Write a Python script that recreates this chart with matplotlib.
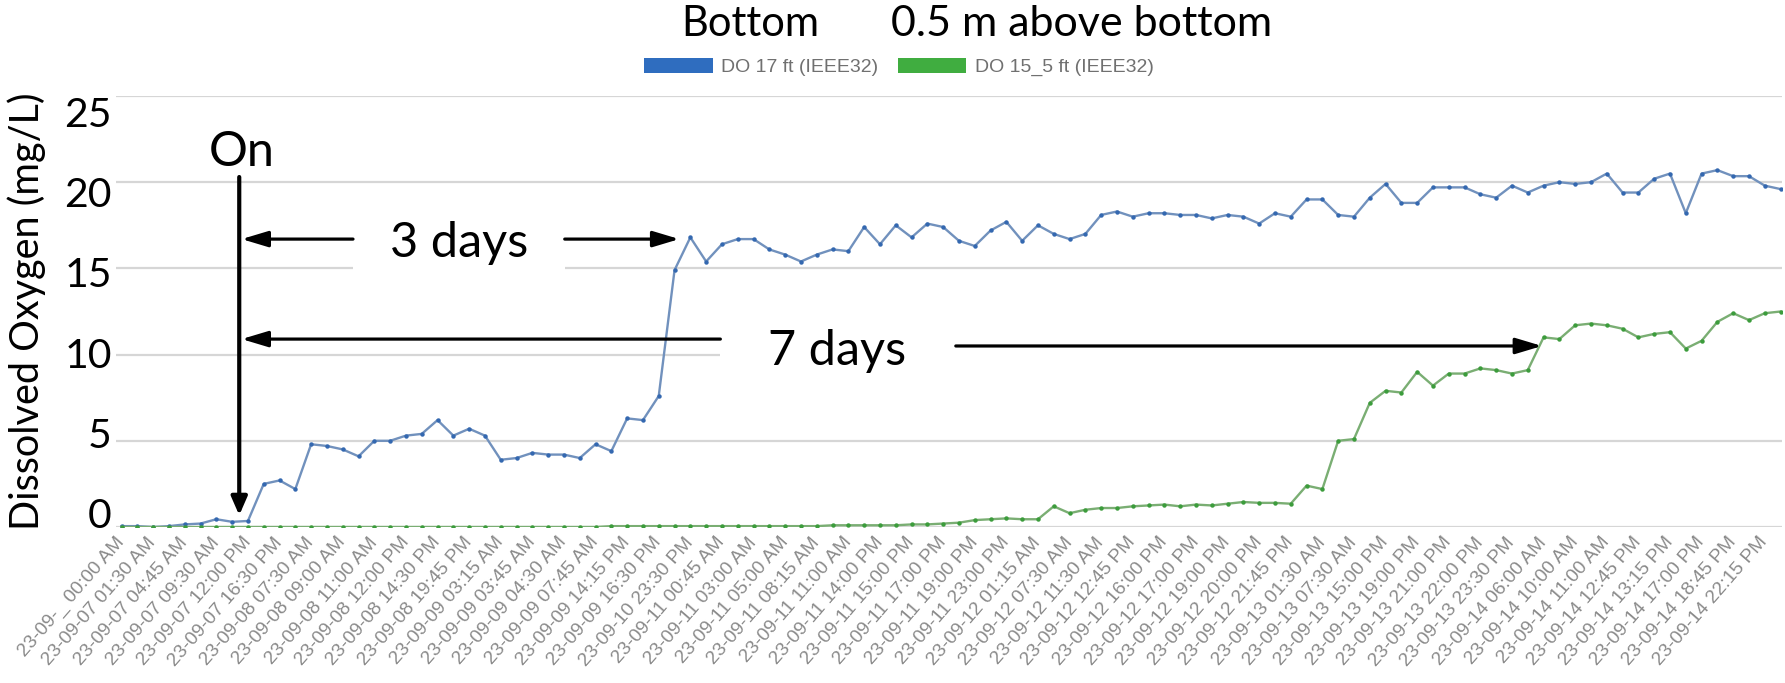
import matplotlib
matplotlib.use("Agg")
import matplotlib.pyplot as plt
from matplotlib.patches import Patch, Rectangle
from matplotlib.transforms import ScaledTranslation
import numpy as np

# ---------------- data ----------------
tick_labels = [
    "23-09-_ 00:00 AM", "23-09-07 01:30 AM", "23-09-07 04:45 AM", "23-09-07 09:30 AM",
    "23-09-07 12:00 PM", "23-09-07 16:30 PM", "23-09-08 07:30 AM", "23-09-08 09:00 AM",
    "23-09-08 11:00 AM", "23-09-08 12:00 PM", "23-09-08 14:30 PM", "23-09-08 19:45 PM",
    "23-09-09 03:15 AM", "23-09-09 03:45 AM", "23-09-09 04:30 AM", "23-09-09 07:45 AM",
    "23-09-09 14:15 PM", "23-09-09 16:30 PM", "23-09-10 23:30 PM", "23-09-11 00:45 AM",
    "23-09-11 03:00 AM", "23-09-11 05:00 AM", "23-09-11 08:15 AM", "23-09-11 11:00 AM",
    "23-09-11 14:00 PM", "23-09-11 15:00 PM", "23-09-11 17:00 PM", "23-09-11 19:00 PM",
    "23-09-11 23:00 PM", "23-09-12 01:15 AM", "23-09-12 07:30 AM", "23-09-12 11:30 AM",
    "23-09-12 12:45 PM", "23-09-12 16:00 PM", "23-09-12 17:00 PM", "23-09-12 19:00 PM",
    "23-09-12 20:00 PM", "23-09-12 21:45 PM", "23-09-13 01:30 AM", "23-09-13 07:30 AM",
    "23-09-13 15:00 PM", "23-09-13 19:00 PM", "23-09-13 21:00 PM", "23-09-13 22:00 PM",
    "23-09-13 23:30 PM", "23-09-14 06:00 AM", "23-09-14 10:00 AM", "23-09-14 11:00 AM",
    "23-09-14 12:45 PM", "23-09-14 13:15 PM", "23-09-14 17:00 PM", "23-09-14 18:45 PM",
    "23-09-14 22:15 PM",
]

# DO 17 ft (IEEE32) - "Bottom"
do_bottom = [
    0.05, 0.05, 0.0, 0.05, 0.15, 0.2, 0.45, 0.3, 0.35, 2.5,
    2.7, 2.2, 4.8, 4.7, 4.5, 4.1, 5.0, 5.0, 5.3, 5.4,
    6.2, 5.3, 5.7, 5.3, 3.9, 4.0, 4.3, 4.2, 4.2, 4.0,
    4.8, 4.4, 6.3, 6.2, 7.6, 14.9, 16.8, 15.4, 16.4, 16.7,
    16.7, 16.1, 15.8, 15.4, 15.8, 16.1, 16.0, 17.4, 16.4, 17.5,
    16.8, 17.6, 17.4, 16.6, 16.3, 17.2, 17.7, 16.6, 17.5, 17.0,
    16.7, 17.0, 18.1, 18.3, 18.0, 18.2, 18.2, 18.1, 18.1, 17.9,
    18.1, 18.0, 17.6, 18.2, 18.0, 19.0, 19.0, 18.1, 18.0, 19.1,
    19.9, 18.8, 18.8, 19.7, 19.7, 19.7, 19.3, 19.1, 19.8, 19.4,
    19.8, 20.0, 19.9, 20.0, 20.5, 19.4, 19.4, 20.2, 20.5, 18.2,
    20.5, 20.7, 20.35, 20.35, 19.8, 19.6,
]

# DO 15_5 ft (IEEE32) - "0.5 m above bottom"
do_05m = [
    0.0, 0.0, 0.0, 0.0, 0.0, 0.0, 0.0, 0.0, 0.0, 0.0,
    0.0, 0.0, 0.0, 0.0, 0.0, 0.0, 0.0, 0.0, 0.0, 0.0,
    0.0, 0.0, 0.0, 0.0, 0.0, 0.0, 0.0, 0.0, 0.0, 0.0,
    0.0, 0.05, 0.05, 0.05, 0.05, 0.05, 0.05, 0.05, 0.05, 0.05,
    0.05, 0.05, 0.05, 0.05, 0.05, 0.1, 0.1, 0.1, 0.1, 0.1,
    0.15, 0.15, 0.2, 0.25, 0.4, 0.45, 0.5, 0.45, 0.45, 1.2,
    0.8, 1.0, 1.1, 1.1, 1.2, 1.25, 1.3, 1.2, 1.3, 1.25,
    1.35, 1.45, 1.4, 1.4, 1.35, 2.4, 2.2, 5.0, 5.1, 7.2,
    7.9, 7.8, 9.0, 8.2, 8.9, 8.9, 9.2, 9.1, 8.9, 9.1,
    11.0, 10.9, 11.7, 11.8, 11.7, 11.5, 11.0, 11.2, 11.3, 10.35,
    10.8, 11.9, 12.4, 12.0, 12.4, 12.5,
]

y_ticks = [0, 5, 10, 15, 20, 25]
series_names = ["DO 17 ft (IEEE32)", "DO 15_5 ft (IEEE32)"]
headers = ["Bottom", "0.5 m above bottom"]

# ---------------- figure ----------------
W, H, DPI = 1785, 683, 100
fig = plt.figure(figsize=(W / DPI, H / DPI), dpi=DPI)
fig.patch.set_facecolor("white")
L, R, T, B = 116, 1782, 96, 527
ax = fig.add_axes([L / W, 1 - B / H, (R - L) / W, (B - T) / H])

x = np.arange(len(do_bottom))
ax.set_xlim(-0.35, 105.09)
ax.set_ylim(0, 25)
for s in ax.spines.values():
    s.set_visible(False)

grid_kw = dict(color="#d6d6d6", lw=1.6, zorder=0.5)
for v in y_ticks:
    if v == 10:
        ax.hlines(v, -0.35, 37.9, **grid_kw)
    else:
        ax.axhline(v, **grid_kw)

# white box behind "3 days" (hides the 15 gridline there)
ax.add_patch(Rectangle((14.65, 14.3), 28.05 - 14.65, 3.5, fc="white", ec="none", zorder=1))

ax.plot(x, do_bottom, color="#7191bd", lw=1.7, marker="o", ms=3.2,
        mfc="#3468b0", mec="none", zorder=3)
ax.plot(x, do_05m, color="#7aae73", lw=1.7, marker="o", ms=3.2,
        mfc="#3c9c3c", mec="none", zorder=3)

# y axis ticks
ax.set_yticks(y_ticks)
ax.set_yticklabels([str(v) for v in y_ticks], fontsize=29.5, family="Lato")
ax.tick_params(axis="y", length=0, pad=3)
for lab, v in zip(ax.get_yticklabels(), y_ticks):
    off_px = -13.7 + v * 1.17   # manual label placement of the original
    lab.set_transform(lab.get_transform() +
                      ScaledTranslation(0, -off_px / DPI, fig.dpi_scale_trans))

# x axis ticks
ax.set_xticks(x[::2][:len(tick_labels)])
ax.set_xticklabels(tick_labels, rotation=49, ha="right", va="center",
                   rotation_mode="anchor", fontsize=13.8, color="#8a8a8a",
                   family="Liberation Sans")
ax.tick_params(axis="x", length=0, pad=9)

ax.set_ylabel("Dissolved Oxygen (mg/L)", fontsize=28.5, family="Lato", va="center")
ax.yaxis.set_label_coords((27 - L) / (R - L), 0.5)

# annotations
txt_kw = dict(fontsize=35, family="Lato", ha="center", va="baseline", zorder=6)
ax.text(7.6, 20.95, "On", **txt_kw)
ax.text(21.35, 15.67, "3 days", **txt_kw)
ax.text(45.3, 9.38, "7 days", **txt_kw)

def arrow(tail, tip, lw, hl, hw):
    ax.annotate("", xy=tip, xytext=tail,
                arrowprops=dict(arrowstyle=f"-|>,head_length={hl},head_width={hw}",
                                color="black", lw=lw, shrinkA=0, shrinkB=0,
                                mutation_scale=20),
                zorder=7)

arrow((7.45, 20.3), (7.45, 0.68), 3.0, 0.55, 0.24)
arrow((14.65, 16.7), (7.6, 16.7), 2.3, 0.8, 0.24)
arrow((28.05, 16.7), (35.3, 16.7), 2.3, 0.8, 0.24)
arrow((37.9, 10.9), (7.6, 10.9), 2.3, 0.8, 0.24)
arrow((52.8, 10.5), (89.9, 10.5), 2.3, 0.8, 0.24)

# headers above the legend
fig.text(750 / W, 1 - 36 / H, headers[0], fontsize=30, family="Lato",
         ha="center", va="baseline")
fig.text(1082 / W, 1 - 36 / H, headers[1], fontsize=31, family="Lato",
         ha="center", va="baseline")

handles = [Patch(fc="#2f6dbf", ec="none", label=series_names[0]),
           Patch(fc="#40ad40", ec="none", label=series_names[1])]
fig.legend(handles=handles, loc="center", bbox_to_anchor=(899 / W, 1 - 67 / H),
           ncol=2, frameon=False, prop={"family": "Liberation Sans", "size": 14},
           labelcolor="#707070", handlelength=3.5, handleheight=0.85,
           handletextpad=0.45, columnspacing=1.0)

fig.savefig("out.png", dpi=DPI, facecolor="white")
